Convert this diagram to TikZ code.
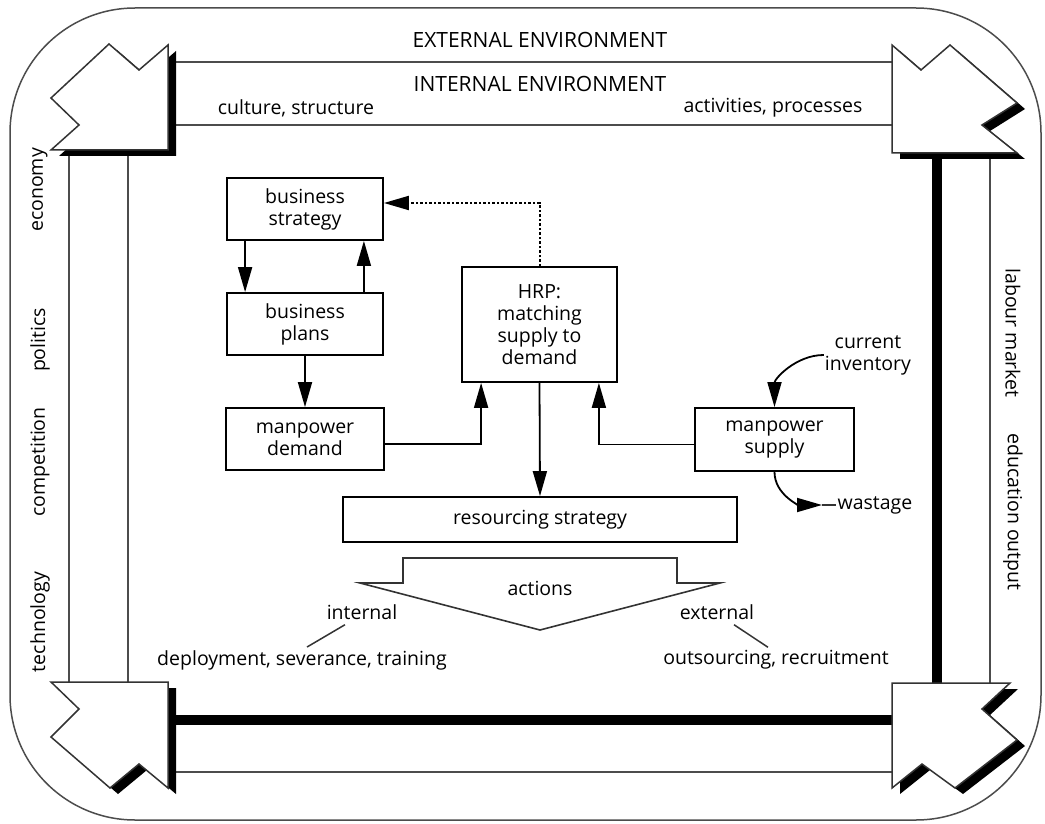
\documentclass[tikz,border=0pt]{standalone}
\usepackage{fontspec}
\setmainfont{Open Sans}
\usetikzlibrary{arrows.meta,calc}
\begin{document}
\begin{tikzpicture}[x=1pt,y=-1pt,
  thinrule/.style={line width=1.5pt,black!70},
  heavyrule/.style={line width=9.5pt,black},
  cornerarrow/.style={fill=white,draw=black!80,line width=1.5pt,line join=miter},
  cornershadow/.style={fill=black},
  txt/.style={font=\fontsize{19.5}{22}\selectfont,align=center,inner sep=1pt},
  captxt/.style={font=\fontsize{21}{24}\selectfont,inner sep=1pt},
  box/.style={txt,draw=black,line width=1.8pt},
  arr/.style={line width=1.8pt,-{Triangle[length=25pt,width=14pt]}},
  link/.style={line width=1.5pt,black!80},
]
\useasboundingbox (0,0) rectangle (1045,824);

% outer frame
\draw[thinrule] (10,8) [rounded corners=125pt] rectangle (1041,820);

% bands between the corner arrows
\draw[thinrule] (168,62) -- (892,62);
\draw[thinrule] (168,125) -- (892,125);
\draw[thinrule] (69,150) -- (69,682);
\draw[thinrule] (128,150) -- (128,682);
\draw[heavyrule] (937,153) -- (937,683);
\draw[thinrule] (990,153) -- (990,683);
\draw[heavyrule] (168,720) -- (892,720);
\draw[thinrule] (168,772) -- (892,772);

% corner arrows: shadows first, then the white shapes
\begin{scope}[shift={(8,6)}]
  \fill[cornershadow] (168,45) -- (139,70) -- (109,44) -- (51,98) -- (79,125) -- (51,150) -- (168,150) -- cycle;
  \fill[cornershadow] (892,45) -- (921,70) -- (950,45) -- (1017,103) -- (982,125) -- (1017,153) -- (892,153) -- cycle;
  \fill[cornershadow] (51,682) -- (168,682) -- (168,788) -- (139,764) -- (110,788) -- (51,737) -- (79,709) -- cycle;
  \fill[cornershadow] (892,683) -- (1010,683) -- (982,709) -- (1017,740) -- (955,788) -- (922,764) -- (892,788) -- cycle;
\end{scope}
\draw[cornerarrow] (168,45) -- (139,70) -- (109,44) -- (51,98) -- (79,125) -- (51,150) -- (168,150) -- cycle;
\draw[cornerarrow] (892,45) -- (921,70) -- (950,45) -- (1017,103) -- (982,125) -- (1017,153) -- (892,153) -- cycle;
\draw[cornerarrow] (51,682) -- (168,682) -- (168,788) -- (139,764) -- (110,788) -- (51,737) -- (79,709) -- cycle;
\draw[cornerarrow] (892,683) -- (1010,683) -- (982,709) -- (1017,740) -- (955,788) -- (922,764) -- (892,788) -- cycle;

% environment labels
\node[captxt] (ext) at (540,40) {EXTERNAL ENVIRONMENT};
\node[captxt] (int) at (540,84) {INTERNAL ENVIRONMENT};
\node[txt] (cult) at (296,108) {culture, structure};
\node[txt] (act) at (773,108) {activities, processes};
\node[txt,rotate=90] (econ) at (40,190) {economy};
\node[txt,rotate=90] (poli) at (40,340) {politics};
\node[txt,rotate=90] (comp) at (40,462) {competition};
\node[txt,rotate=90] (tech) at (40,622) {technology};
\node[txt,rotate=-90] (lab) at (1013,333) {labour market};
\node[txt,rotate=-90] (edu) at (1013,512) {education output};

% planning boxes
\node[box,minimum width=156pt,minimum height=62pt] (strat) at (305,209) {business\\strategy};
\node[box,minimum width=156pt,minimum height=62pt] (plans) at (305,324) {business\\plans};
\node[box,minimum width=158pt,minimum height=62pt] (demand) at (305,439) {manpower\\demand};
\node[box,minimum width=155pt,minimum height=115pt] (hrp) at (539.5,324.5) {HRP:\\matching\\supply to\\demand};
\node[box,minimum width=159pt,minimum height=63pt] (supply) at (774.5,439.5) {manpower\\supply};
\node[box,minimum width=394pt,minimum height=45pt] (res) at (540,519.5) {resourcing strategy};
\node[txt] (inv) at (868,355) {current\\inventory};
\node[txt] (waste) at (875,505) {wastage};

% connectors
\draw[arr] ($(strat.south west)+(19,0)$) -- ($(plans.north west)+(19,0)$);
\draw[arr] ($(plans.north east)+(-20,0)$) -- ($(strat.south east)+(-20,0)$);
\draw[arr] (plans.south) -- (demand.north);
\draw[arr] ($(demand.east)+(0,5)$) -| ($(hrp.south west)+(20,0)$);
\draw[arr] ($(supply.west)+(0,5)$) -| ($(hrp.south east)+(-19,0)$);
\draw[arr] (hrp.south) -- (res.north);
\draw[arr,line width=2pt,dash pattern=on 2.5pt off 2pt] (hrp.north) |- ($(strat.east)+(0,-6)$);
\draw[arr] (inv.west) to[out=180,in=90] (supply.north);
\coordinate (wtip) at (822,505);
\draw[arr] (supply.south) to[out=-90,in=180] (wtip);
\draw[link] (wtip) -- (waste.west);

% actions arrow
\draw[line width=1.6pt,black!80,line join=miter] (403,558) -- (677,558) -- (677,583) -- (720,583) -- (540,630) -- (360,583) -- (403,583) -- cycle;
\node[txt] (actions) at (540,588) {actions};
\node[txt] (intl) at (362,612) {internal};
\node[txt] (extl) at (717,612) {external};
\node[txt] (deploy) at (302,660) {deployment, severance, training};
\node[txt] (outs) at (776,660) {outsourcing, recruitment};
\draw[link] ($(intl.south)+(-17,4)$) -- ($(deploy.north)+(5,-2)$);
\draw[link] ($(extl.south)+(17,4)$) -- ($(outs.north)+(-8,-2)$);
\end{tikzpicture}
\end{document}
